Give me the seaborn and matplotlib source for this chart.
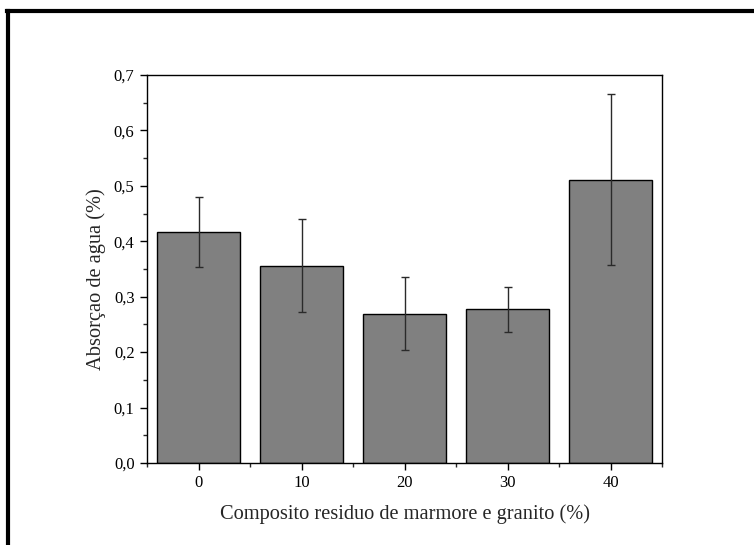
import numpy as np
import pandas as pd
import matplotlib
matplotlib.use("Agg")
import matplotlib.pyplot as plt
from matplotlib.lines import Line2D
from matplotlib.ticker import MultipleLocator, FuncFormatter
import seaborn as sns

# Water absorption of composites by marble/granite residue content
composite = [0, 10, 20, 30, 40]
absorption = [0.417, 0.356, 0.269, 0.277, 0.511]
absorption_sd = [0.063, 0.084, 0.066, 0.041, 0.154]
y_ticks = [0.0, 0.1, 0.2, 0.3, 0.4, 0.5, 0.6, 0.7]

sns.set_style("ticks")
plt.rcParams["font.family"] = ["Liberation Serif", "DejaVu Serif"]

df = pd.DataFrame({"composite": composite, "absorption": absorption})

fig = plt.figure(figsize=(7.54, 5.45), dpi=100)
ax = fig.add_axes([0.195, 0.1505, 0.683, 0.7119])

sns.barplot(data=df, x="composite", y="absorption", native_scale=True,
            width=0.8, color="#808080", saturation=1, edgecolor="black",
            linewidth=1.0, errorbar=None, ax=ax)
ax.errorbar(composite, absorption, yerr=absorption_sd, fmt="none",
            ecolor="#2a2a2a", elinewidth=1.0, capsize=2.6, capthick=1.0)

ax.set_xlim(-5, 45)
ax.set_ylim(0, 0.7)
ax.set_xticks(composite)
ax.set_xticklabels([str(c) for c in composite])
ax.xaxis.set_minor_locator(MultipleLocator(5))
ax.set_yticks(y_ticks)
ax.yaxis.set_major_formatter(FuncFormatter(lambda v, p: f"{v:.1f}".replace(".", ",")))
ax.yaxis.set_minor_locator(MultipleLocator(0.05))

for side in ["left", "right", "top", "bottom"]:
    ax.spines[side].set_visible(True)
    ax.spines[side].set_linewidth(1.0)
    ax.spines[side].set_color("black")

ax.tick_params(which="major", direction="out", length=5, width=1.0,
               labelsize=12, colors="black", pad=4)
ax.tick_params(which="minor", direction="out", length=2.8, width=1.0)
ax.tick_params(top=False, right=False, which="both")

ax.set_xlabel("Composito residuo de marmore e granito (%)", fontsize=14.7, labelpad=9)
ax.set_ylabel("Absorçao de agua (%)", fontsize=14.7)
ax.yaxis.set_label_coords(-0.08, 0.474)

# Heavy frame lines on the top and left edges of the figure
fig.add_artist(Line2D([6.5 / 754, 1.0], [1 - 11 / 545, 1 - 11 / 545],
                      transform=fig.transFigure, color="black", linewidth=3.0,
                      solid_capstyle="projecting"))
fig.add_artist(Line2D([7.5 / 754, 7.5 / 754], [0.0, 1 - 11 / 545],
                      transform=fig.transFigure, color="black", linewidth=3.0,
                      solid_capstyle="projecting"))

fig.savefig("out.png", dpi=100)
